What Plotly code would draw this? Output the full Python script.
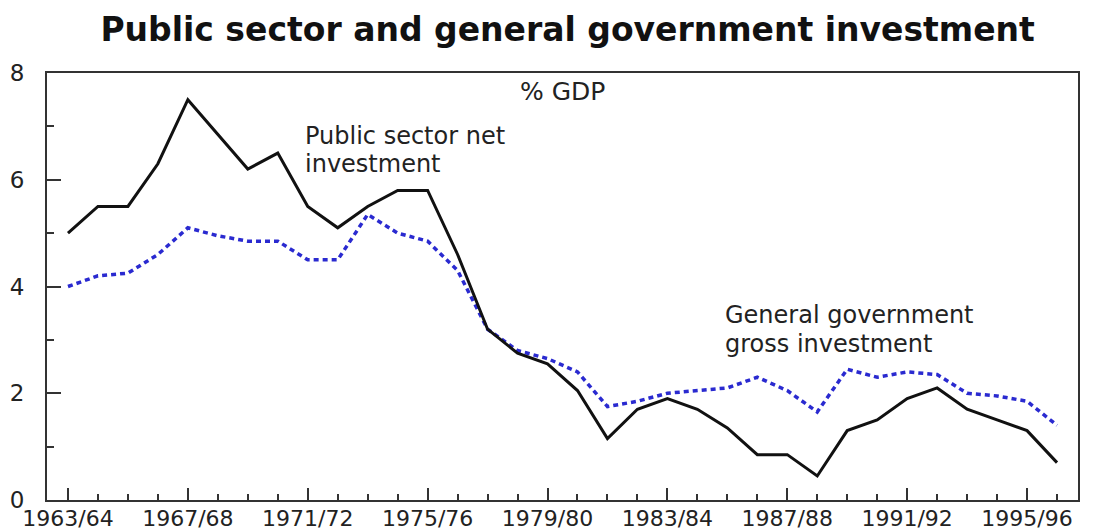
import plotly.graph_objects as go

years = ["1963/64","1964/65","1965/66","1966/67","1967/68","1968/69","1969/70","1970/71",
         "1971/72","1972/73","1973/74","1974/75","1975/76","1976/77","1977/78","1978/79",
         "1979/80","1980/81","1981/82","1982/83","1983/84","1984/85","1985/86","1986/87",
         "1987/88","1988/89","1989/90","1990/91","1991/92","1992/93","1993/94","1994/95",
         "1995/96","1996/97"]
public_sector_net = [5.0, 5.5, 5.5, 6.3, 7.5, 6.85, 6.2, 6.5,
                     5.5, 5.1, 5.5, 5.8, 5.8, 4.6, 3.2, 2.75,
                     2.55, 2.05, 1.15, 1.7, 1.9, 1.7, 1.35, 0.85,
                     0.85, 0.45, 1.3, 1.5, 1.9, 2.1, 1.7, 1.5,
                     1.3, 0.7]
gen_gov_gross = [4.0, 4.2, 4.25, 4.6, 5.1, 4.95, 4.85, 4.85,
                 4.5, 4.5, 5.35, 5.0, 4.85, 4.3, 3.2, 2.8,
                 2.65, 2.4, 1.75, 1.85, 2.0, 2.05, 2.1, 2.3,
                 2.05, 1.65, 2.45, 2.3, 2.4, 2.35, 2.0, 1.95,
                 1.85, 1.4]
tick_labels = ["1963/64","1967/68","1971/72","1975/76","1979/80","1983/84",
               "1987/88","1991/92","1995/96"]
y_ticks = [0, 2, 4, 6, 8]

x = [int(y[:4]) for y in years]
tick_x = [int(t[:4]) for t in tick_labels]

FONT = "DejaVu Sans"

fig = go.Figure()
fig.add_trace(go.Scatter(x=x, y=gen_gov_gross, mode="lines",
                         line=dict(color="#2a2ad0", width=3.5, dash="5px,4px"),
                         name="General government gross investment"))
fig.add_trace(go.Scatter(x=x, y=public_sector_net, mode="lines",
                         line=dict(color="#111111", width=3),
                         name="Public sector net investment"))

# page body has an 8px margin, so the figure is sized/offset to compensate
fig.update_layout(
    width=1091, height=524,
    margin=dict(l=39, r=21, t=65, b=32, autoexpand=False),
    paper_bgcolor="white", plot_bgcolor="white",
    showlegend=False,
    title=dict(text="<b>Public sector and general government investment</b>",
               x=0.505, xanchor="center", xref="paper", y=0.96, yanchor="middle",
               font=dict(family=FONT, size=33, color="#111111")),
    font=dict(family=FONT, color="#222222"),
)

fig.update_xaxes(
    range=[x[0] - 0.7, x[-1] + 0.7],
    tickmode="array", tickvals=tick_x, ticktext=tick_labels,
    ticks="inside", ticklen=12, tickwidth=2, tickcolor="#333333",
    minor=dict(tickmode="linear", tick0=x[0], dtick=1, ticks="inside",
               ticklen=6, tickwidth=2, tickcolor="#333333"),
    showline=True, linecolor="#333333", linewidth=2, mirror=True,
    showgrid=False, zeroline=False, automargin=False,
    tickfont=dict(family=FONT, size=22, color="#222222"),
    ticklabelstandoff=-2,
)
fig.update_yaxes(
    range=[0, 8],
    tickmode="array", tickvals=y_ticks, ticktext=[str(v) for v in y_ticks],
    ticks="inside", ticklen=14, tickwidth=2, tickcolor="#333333",
    minor=dict(tickmode="linear", tick0=1, dtick=2, ticks="inside",
               ticklen=7, tickwidth=2, tickcolor="#333333"),
    showline=True, linecolor="#333333", linewidth=2, mirror=True,
    showgrid=False, zeroline=False, automargin=False,
    tickfont=dict(family=FONT, size=23, color="#222222"),
    ticklabelstandoff=16,
)

fig.add_annotation(x=0.5, xref="paper", y=7.66, yref="y", text="% GDP",
                   showarrow=False, xanchor="center", yanchor="middle",
                   font=dict(family=FONT, size=25, color="#222222"))
label_font = dict(family=FONT, size=24, color="#222222")
fig.add_annotation(x=1970.85, y=6.82, text="Public sector net",
                   showarrow=False, xanchor="left", yanchor="middle", font=label_font)
fig.add_annotation(x=1970.85, y=6.29, text="investment",
                   showarrow=False, xanchor="left", yanchor="middle", font=label_font)
fig.add_annotation(x=1984.85, y=3.46, text="General government",
                   showarrow=False, xanchor="left", yanchor="middle", font=label_font)
fig.add_annotation(x=1984.85, y=2.93, text="gross investment",
                   showarrow=False, xanchor="left", yanchor="middle", font=label_font)

fig.write_html("out.html")
